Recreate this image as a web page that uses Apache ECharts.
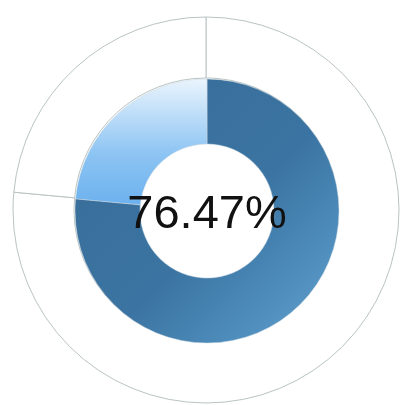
<!DOCTYPE html>
<html>
<head>
<meta charset="utf-8">
<script src="https://cdn.jsdelivr.net/npm/echarts@6/dist/echarts.min.js"></script>
<style>
  html, body { margin: 0; padding: 0; background: #fff; }
  #chart { width: 401px; height: 405px; }
</style>
</head>
<body>
<div id="chart"></div>
<script>
var categories = ['完成', '未完成'];
var values = [76.47, 23.53];
var centerLabel = '76.47%';

var chart = echarts.init(document.getElementById('chart'));

var darkFill = new echarts.graphic.LinearGradient(0, 0, 1, 1, [
    {offset: 0, color: '#386b96'},
    {offset: 0.55, color: '#3b74a2'},
    {offset: 0.8, color: '#4f8ebd'},
    {offset: 1, color: '#6aa9d2'}
]);
var lightFill = new echarts.graphic.LinearGradient(0, 0, 0, 1, [
    {offset: 0, color: '#eaf4fd'},
    {offset: 0.6, color: '#8cc4f3'},
    {offset: 1, color: '#6cb1ee'}
]);

var inner = categories.map(function(name, i) {
    return {
        name: name,
        value: values[i],
        itemStyle: {color: i === 0 ? darkFill : lightFill}
    };
});
var outer = categories.map(function(name, i) {
    return {name: name, value: values[i]};
});

chart.setOption({
    animation: false,
    series: [
        {
            type: 'pie',
            center: [206, 210],
            radius: [132, 193],
            startAngle: 90,
            clockwise: true,
            silent: true,
            label: {show: false},
            labelLine: {show: false},
            itemStyle: {
                color: '#ffffff',
                borderColor: '#b9c3c3',
                borderWidth: 1
            },
            data: outer
        },
        {
            type: 'pie',
            center: [207, 211],
            radius: [67, 132],
            startAngle: 90,
            clockwise: true,
            silent: true,
            label: {show: false},
            labelLine: {show: false},
            itemStyle: {
                borderColor: '#c9d6e0',
                borderWidth: 0.5
            },
            data: inner
        }
    ],
    graphic: [{
        type: 'text',
        z: 100,
        x: 207,
        y: 215,
        style: {
            text: centerLabel,
            align: 'center',
            verticalAlign: 'middle',
            fontFamily: 'Liberation Sans, Arial, sans-serif',
            fontSize: 47,
            fill: '#111111'
        }
    }]
});
</script>
</body>
</html>
